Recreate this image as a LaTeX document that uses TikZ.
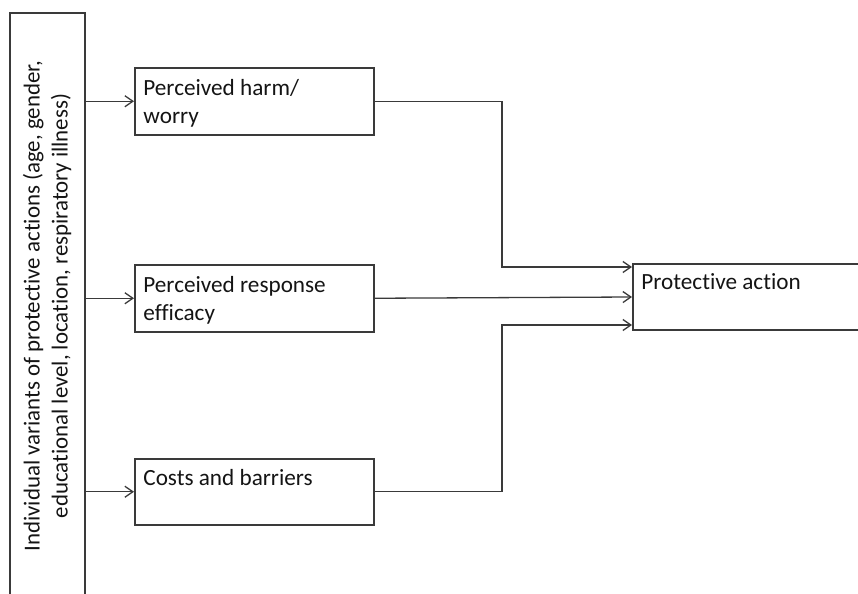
\documentclass[tikz,border=0pt]{standalone}
\usepackage{fontspec}
\setmainfont{Carlito}[Ligatures={NoCommon,NoContextual}]
\usetikzlibrary{arrows.meta}
\definecolor{ln}{HTML}{3A3A3A}
\definecolor{tx}{HTML}{141414}
\begin{document}
\begin{tikzpicture}[x=0.5pt,y=-0.5pt,
 box/.style={draw=ln, line width=0.75pt, minimum width=119.5pt, minimum height=33.5pt, inner sep=0pt, anchor=north west},
 lbl/.style={anchor=base west, inner sep=0pt, font=\fontsize{11.6}{14}\selectfont, text=tx, align=left},
 conn/.style={draw=ln, line width=0.65pt, -{Straight Barb[length=4pt,width=5.5pt]}}]
\useasboundingbox (0,0) rectangle (858,594);
% left box
\node[draw=ln, line width=0.75pt, minimum width=37.5pt, minimum height=300pt, inner sep=0pt, anchor=north west] (lb) at (9,12) {};
\node[rotate=90, align=center, inner sep=0pt, font=\fontsize{11.45}{14}\selectfont, text=tx] (lbt) at (47,306) {Individual variants of protective actions (age, gender,\\educational level, location, respiratory illness)};
% middle boxes
\node[box] (b1) at (134,67) {};
\node[box] (b2) at (134,264) {};
\node[box, minimum height=33pt] (b3) at (134,458) {};
\node[lbl] (t1) at (143,123) {Perceived harm/\\worry};
\node[lbl] (t2) at (143,320) {Perceived response\\efficacy};
\node[lbl] (t3) at (143,485) {Costs and barriers};
% protective action
\node[box, minimum width=120pt, minimum height=33pt] (pa) at (632,263) {};
\node[lbl] (t4) at (641,289) {Protective action};
% coordinates
\coordinate (pa1) at (632,267);
\coordinate (pa2) at (632,297);
\coordinate (pa3) at (632,325);
\coordinate (jx) at (502,0);
% connectors
\draw[conn] (lb.east |- b1.west) -- (b1.west);
\draw[conn] (lb.east |- b2.west) -- (b2.west);
\draw[conn] (lb.east |- b3.west) -- (b3.west);
\draw[conn] (b1.east) -| (jx |- pa1) -- (pa1);
\draw[conn] (b2.east) -- (pa2);
\draw[conn] (b3.east) -| (jx |- pa3) -- (pa3);
\end{tikzpicture}
\end{document}
